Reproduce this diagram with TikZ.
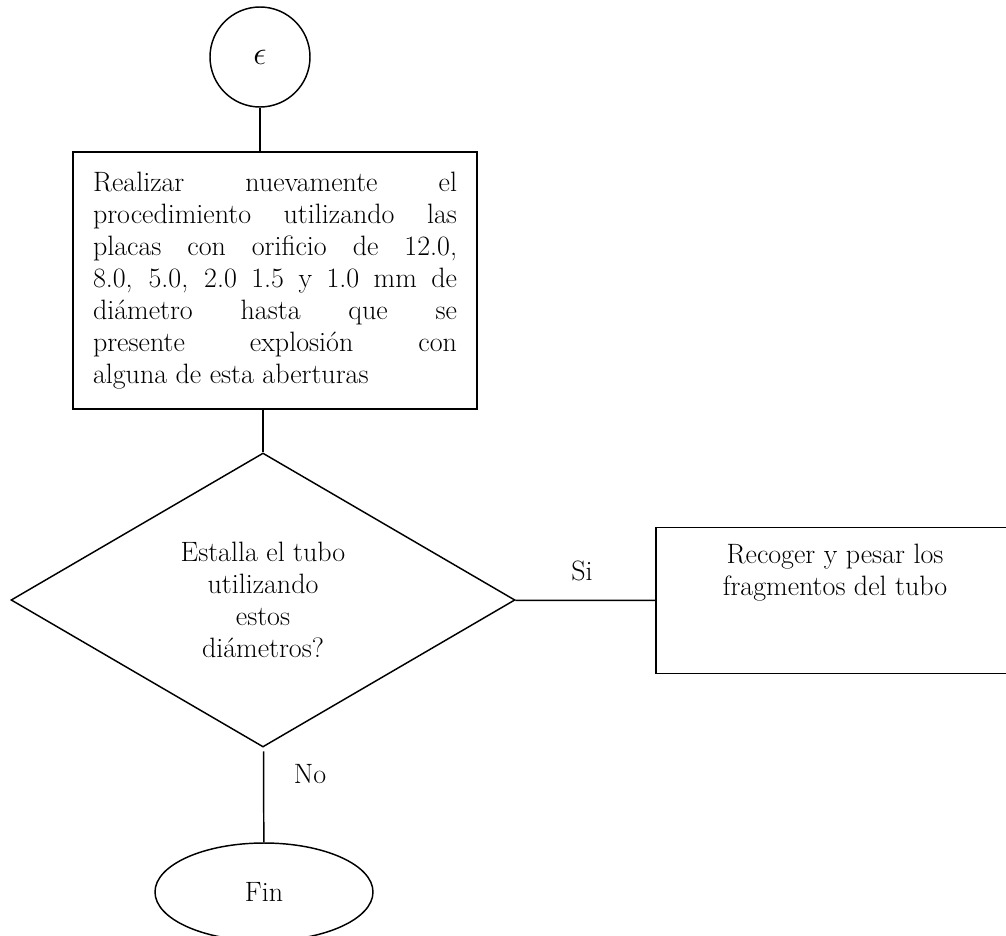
\documentclass[tikz,border=0pt]{standalone}
\usepackage{tikz}
\usetikzlibrary{shapes.geometric,positioning}

\begin{document}
\begin{tikzpicture}
	% Styles
	[
	x=0.75pt, y=-0.75pt, line width=1.1pt,
	every node/.style={font={\fontsize{21}{24}\selectfont\hyphenpenalty=10000\tolerance=10000}},
	enlace/.style={circle,draw,minimum size=75pt,inner sep=0pt},
	caja/.style={rectangle,draw,text width=273pt,inner xsep=15pt,minimum height=192.75pt,align=justify},
	rombo/.style={diamond,draw,aspect=1.7,minimum width=378pt,minimum height=220.5pt,inner sep=0pt,align=center},
	caja2/.style={rectangle,draw,minimum width=268.5pt,inner ysep=12.4pt,text depth=46pt,align=center},
	final/.style={ellipse,draw,minimum width=163.5pt,minimum height=73.5pt},
	etiqueta/.style={inner sep=0pt},
	]
	\useasboundingbox (0,0) rectangle (1006,935);

	% Nodes
	\node at (260,57)	(n6)	[enlace] {\fontsize{30}{30}\selectfont$\epsilon$\hspace{9pt}};
	\node at (275,280.5)	(proc)	[caja] {Realizar nuevamente el\linebreak procedimiento utilizando las\linebreak placas con orificio de 12.0,\linebreak 8.0, 5.0, 2.0 1.5 y 1.0 mm de\linebreak diámetro hasta que se\linebreak presente explosión con\linebreak alguna de esta aberturas};
	\node at (263,600)	(preg)	[rombo] {Estalla el tubo\\utilizando\\estos\\diámetros?};
	\node at (835,527)	(frag)	[caja2,anchor=north] {Recoger y pesar los\\fragmentos del tubo};
	\node at (264,892)	(fin)	[final] {Fin};
	\node at (582,571)	(si)	[etiqueta] {Si};
	\node at (310,774)	(no)	[etiqueta] {No};

	% Connections
	\draw (n6) -- (n6 |- proc.north);
	\draw (preg.north |- proc.south) -- (preg);
	\draw (preg) -- (frag);
	\draw[shorten <=3pt] (preg) -- (fin);

\end{tikzpicture}
\end{document}
